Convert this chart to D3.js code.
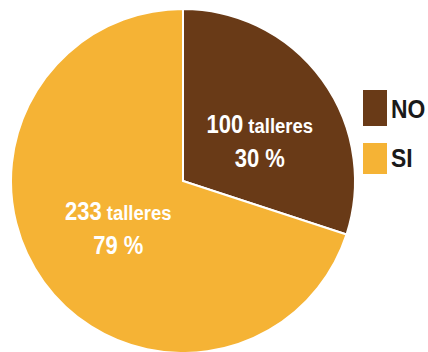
<!DOCTYPE html>
<html>
<head>
<meta charset="utf-8">
<script src="https://cdn.jsdelivr.net/npm/d3@7"></script>
<style>
  body { margin: 0; background: #fff; }
  svg text { font-family: "Liberation Sans", Arial, sans-serif; font-weight: bold; }
</style>
</head>
<body>
<div id="chart"></div>
<script>
// chart data
var categories = ["NO", "SI"];
var counts = [100, 233];
var percentLabels = ["30 %", "79 %"];   // as printed in the original
var colors = ["#693a17", "#f5b335"];

var width = 428, height = 352;
var cx = 183, cy = 181, radius = 172;
var narrow = 0.88; // squeeze the type to look like a condensed face

var svg = d3.select("#chart")
    .append("svg")
    .attr("width", width)
    .attr("height", height);

var pie = d3.pie().sort(null).value(d => d);
var arcs = pie(counts);

var arc = d3.arc().innerRadius(0).outerRadius(radius);
var labelArc = d3.arc().innerRadius(80).outerRadius(80);

var g = svg.append("g").attr("transform", `translate(${cx},${cy})`);

g.selectAll("path")
    .data(arcs)
    .join("path")
    .attr("d", arc)
    .attr("fill", (d, i) => colors[i])
    .attr("stroke", "white")
    .attr("stroke-width", 2);

// small nudge so the labels sit where the original put them
var nudge = [[12, 0], [0, -7]];

var labels = g.selectAll("g.label")
    .data(arcs)
    .join("g")
    .attr("class", "label")
    .attr("transform", (d, i) => {
        var c = labelArc.centroid(d);
        return `translate(${c[0] + nudge[i][0]},${c[1] + nudge[i][1]}) scale(${narrow},1)`;
    });

var line1 = labels.append("text")
    .attr("text-anchor", "middle")
    .attr("y", -1)
    .attr("fill", "white");
line1.append("tspan").attr("font-size", 25).text((d, i) => counts[i]);
line1.append("tspan").attr("font-size", 21).text(" talleres");

labels.append("text")
    .attr("text-anchor", "middle")
    .attr("y", 33)
    .attr("font-size", 25)
    .attr("fill", "white")
    .text((d, i) => percentLabels[i]);

// legend
var legend = svg.append("g")
    .selectAll("g")
    .data(categories)
    .join("g")
    .attr("transform", (d, i) => `translate(363,${90 + i * 53})`);

legend.append("rect")
    .attr("width", 24)
    .attr("height", (d, i) => i ? 31 : 36)
    .attr("fill", (d, i) => colors[i]);

legend.append("text")
    .attr("transform", (d, i) => `translate(28,${i ? 24 : 28}) scale(${narrow},1)`)
    .attr("font-size", 26)
    .attr("fill", "#1a1a1a")
    .text(d => d);
</script>
</body>
</html>
